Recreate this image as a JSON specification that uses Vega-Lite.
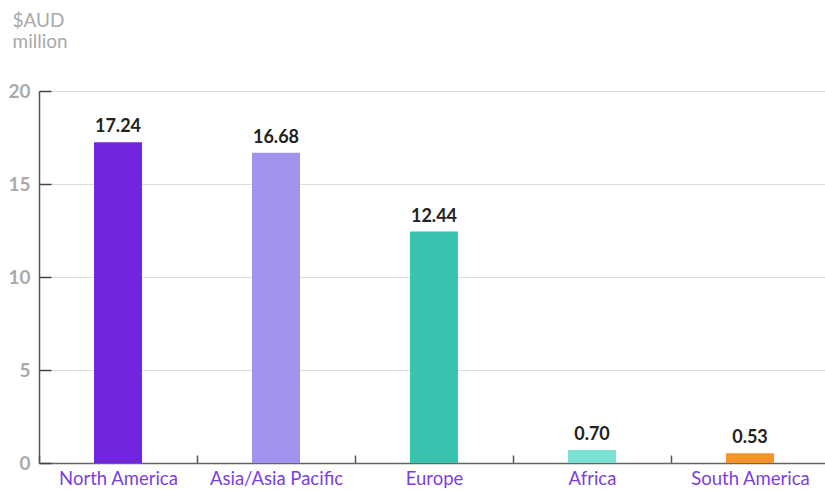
{
  "$schema": "https://vega.github.io/schema/vega-lite/v6.json",
  "width": 786,
  "height": 372,
  "autosize": "none",
  "padding": {"left": 39, "top": 91, "right": 0, "bottom": 28},
  "background": "white",
  "config": {"view": {"stroke": null}, "font": "Lato"},
  "data": {"values": [
    {"region": "North America", "value": 17.24, "label": "17.24", "color": "#7026dc"},
    {"region": "Asia/Asia Pacific", "value": 16.68, "label": "16.68", "color": "#a093ee"},
    {"region": "Europe", "value": 12.44, "label": "12.44", "color": "#38c4b0"},
    {"region": "Africa", "value": 0.70, "label": "0.70", "color": "#7ae0d2"},
    {"region": "South America", "value": 0.53, "label": "0.53", "color": "#f8922a"}
  ]},
  "encoding": {
    "x": {"field": "region", "type": "nominal", "sort": null,
      "scale": {"paddingInner": 0, "paddingOuter": 0, "range": [0, 790]},
      "axis": {"title": null, "labelAngle": 0, "labelColor": "#7a3fe0", "labelFontSize": 18.5, "labelFont": "Lato",
        "tickBand": "extent", "ticks": true, "tickSize": -8, "tickColor": "#555", "tickWidth": 1.5, "labelPadding": 14,
        "domainColor": "#666", "domainWidth": 1.5, "grid": false}},
    "y": {"field": "value", "type": "quantitative",
      "scale": {"domain": [0, 20]},
      "axis": {"values": [0, 5, 10, 15, 20], "title": ["$AUD", "million"], "titleAngle": 0, "titleAlign": "left",
        "titleBaseline": "alphabetic", "titleX": -27, "titleY": -65, "titleColor": "#aaa", "titleFontSize": 19,
        "titleFontWeight": "normal", "titleLineHeight": 21, "titleFont": "Lato",
        "labelColor": "#aaa", "labelFontSize": 19, "labelFontWeight": "bold", "labelFont": "Lato",
        "ticks": true, "tickSize": -12, "tickColor": "#444", "tickWidth": 1.5, "labelPadding": 21,
        "domainColor": "#555", "domainWidth": 1.5,
        "grid": true, "gridColor": "#ddd"}}
  },
  "layer": [
    {"mark": {"type": "bar", "width": {"band": 0.304}}, "encoding": {"color": {"field": "color", "type": "nominal", "scale": null}}},
    {"mark": {"type": "text", "dy": -15, "fontSize": 18, "fontWeight": "bold", "color": "#222", "font": "Lato"},
     "encoding": {"text": {"field": "label"}}}
  ]
}
